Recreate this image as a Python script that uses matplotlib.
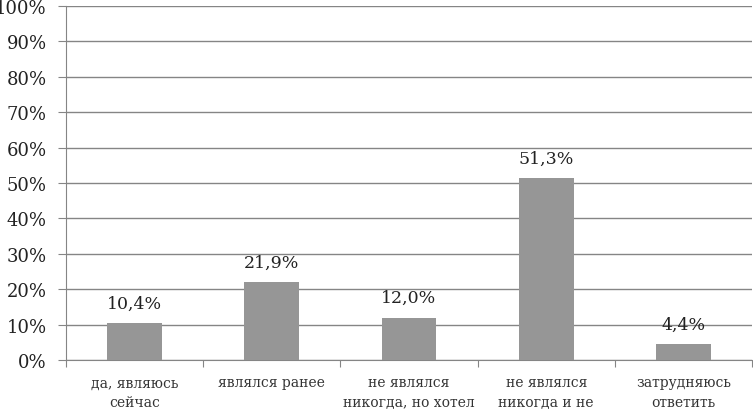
import matplotlib.pyplot as plt
from matplotlib.ticker import FuncFormatter

plt.rcParams["font.family"] = ["DejaVu Serif"]

categories = ["да, являюсь\nсейчас", "являлся ранее", "не являлся\nникогда, но хотел",
              "не являлся\nникогда и не", "затрудняюсь\nответить"]
values = [10.4, 21.9, 12.0, 51.3, 4.4]
labels = ["10,4%", "21,9%", "12,0%", "51,3%", "4,4%"]

fig = plt.figure(figsize=(7.53, 4.10), dpi=100)
ax = fig.add_axes([66 / 753, 1 - 361 / 410, (752 - 66) / 753, (361 - 7) / 410])

x = range(len(values))
ax.bar(x, values, width=0.4, color="#969696", zorder=3)
for i, v in enumerate(values):
    ax.text(i, v + 3.2, labels[i], ha="center", va="bottom", fontsize=12.5, color="#222222")

ax.set_ylim(0, 100)
ax.set_xlim(-0.5, len(values) - 0.5)
ax.set_yticks(range(0, 101, 10))
ax.yaxis.set_major_formatter(FuncFormatter(lambda v, p: f"{int(v)}%"))
ax.yaxis.grid(True, color="#858585", linewidth=1, zorder=0)
ax.tick_params(axis="y", length=6, color="#858585", labelsize=13, pad=8, labelcolor="#222222")

ax.set_xticks([i - 0.5 for i in range(len(values) + 1)], minor=False)
ax.set_xticklabels([])
ax.set_xticks(list(x), minor=True)
ax.set_xticklabels(categories, minor=True, fontsize=10, color="#333333", linespacing=1.5)
ax.tick_params(axis="x", which="major", length=5, color="#858585")
ax.tick_params(axis="x", which="minor", length=0, pad=11)

for s in ["top", "right"]:
    ax.spines[s].set_visible(False)
ax.spines["left"].set_color("#858585")
ax.spines["bottom"].set_color("#858585")

fig.savefig("out.png", dpi=100)
